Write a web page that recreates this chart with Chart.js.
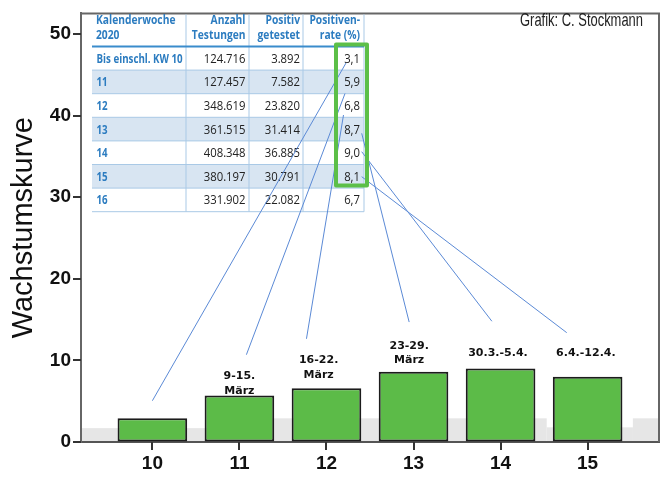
<!DOCTYPE html>
<html>
<head>
<meta charset="utf-8">
<script src="https://cdn.jsdelivr.net/npm/chart.js@4.4.1/dist/chart.umd.min.js"></script>
<style>
  html, body { margin: 0; padding: 0; background: #fff; }
  #wrap { width: 662px; height: 478px; }
</style>
</head>
<body>
<div id="wrap"><canvas id="chart" width="662" height="478"></canvas></div>
<script>
// bar data (calendar week -> positive rate in %)
const weeks = [10, 11, 12, 13, 14, 15];
const rates = [2.9, 5.7, 6.6, 8.6, 9.0, 8.0];
const yTicks = [0, 10, 20, 30, 40, 50];
const periods = [[], ['9-15.', 'März'], ['16-22.', 'März'], ['23-29.', 'März'], ['30.3.-5.4.'], ['6.4.-12.4.']];

// table pasted into the chart
const tableHead = [['Kalenderwoche', '2020'], ['Anzahl', 'Testungen'], ['Positiv', 'getestet'], ['Positiven-', 'rate (%)']];
const tableWeeks = ['Bis einschl. KW 10', '11', '12', '13', '14', '15', '16'];
const tableTests = ['124.716', '127.457', '348.619', '361.515', '408.348', '380.197', '331.902'];
const tablePositive = ['3.892', '7.582', '23.820', '31.414', '36.885', '30.791', '22.082'];
const tableRates = ['3,1', '5,9', '6,8', '8,7', '9,0', '8,1', '6,7'];

// where the hand drawn connector lines end (in chart units)
const linkEndX = [10.0, 11.08, 11.77, 12.95, 13.9, 14.76];
const linkEndY = [5.06, 10.7, 12.65, 14.7, 14.8, 13.4];
// where the date labels sit (x, baseline of last line, chart units)
const labelX = [10, 11.0, 11.91, 12.95, 13.97, 14.98];
const labelY = [0, 5.94, 7.87, 9.64, 10.48, 10.48];

const BLUE = '#2c7cc0';
const LINE_BLUE = '#a9c9e6';

function squeezed(ctx, s, x, y, align, sx) {
  ctx.save();
  ctx.translate(x, y);
  ctx.scale(sx, 1);
  ctx.textAlign = align;
  ctx.fillText(s, 0, 0);
  ctx.restore();
}

const backdrop = {
  id: 'backdrop',
  beforeDraw(chart) {
    const { ctx, scales: { x, y } } = chart;
    ctx.save();
    ctx.fillStyle = '#fff';
    ctx.fillRect(0, 0, chart.width, chart.height);
    // grey floor behind the bars (scan artefact in the original)
    ctx.fillStyle = '#e6e6e6';
    [[9.18, 11, 1.7], [11, 14.53, 2.9], [14.53, 15.52, 1.8], [15.52, 15.82, 2.9]].forEach(([a, b, h]) => {
      ctx.fillRect(x.getPixelForValue(a), y.getPixelForValue(h), x.getPixelForValue(b) - x.getPixelForValue(a), y.getPixelForValue(0) - y.getPixelForValue(h));
    });
    ctx.restore();
  },
  afterDraw(chart) {
    const { ctx, chartArea: a, scales: { x, y } } = chart;
    ctx.save();
    // frame top + right
    ctx.strokeStyle = '#666';
    ctx.lineWidth = 2;
    ctx.beginPath();
    ctx.moveTo(a.left, a.top);
    ctx.lineTo(a.right, a.top);
    ctx.lineTo(a.right, a.bottom);
    ctx.stroke();

    // tick marks
    ctx.fillStyle = '#333';
    weeks.forEach(w => {
      const px = Math.round(x.getPixelForValue(w));
      ctx.fillRect(px - 1, a.bottom, 2, 8);
    });
    yTicks.forEach(v => {
      const py = Math.round(y.getPixelForValue(v));
      ctx.fillRect(a.left - 8, py - 1, 8, 2);
    });

    // ---- table ----
    const L = 92, R = 364, headBottom = 46.5, rowH = 23.6;
    const cols = [186, 249, 303];
    const rightAt = [0, 245.5, 300, 360];
    for (let i = 0; i < tableWeeks.length; i++) {
      if (i % 2 === 1) {
        ctx.fillStyle = '#d8e5f2';
        ctx.fillRect(L, headBottom + i * rowH, R - L, rowH);
      }
    }
    ctx.strokeStyle = LINE_BLUE;
    ctx.lineWidth = 1;
    for (let i = 1; i <= tableWeeks.length; i++) {
      ctx.beginPath();
      ctx.moveTo(L, headBottom + i * rowH);
      ctx.lineTo(R, headBottom + i * rowH);
      ctx.stroke();
    }
    [...cols, R].forEach(cx => {
      ctx.beginPath();
      ctx.moveTo(cx, a.top + 1);
      ctx.lineTo(cx, headBottom + tableWeeks.length * rowH);
      ctx.stroke();
    });
    ctx.strokeStyle = '#3a8ccc';
    ctx.lineWidth = 2;
    ctx.beginPath();
    ctx.moveTo(L, headBottom);
    ctx.lineTo(R, headBottom);
    ctx.stroke();

    ctx.textBaseline = 'alphabetic';
    ctx.fillStyle = BLUE;
    ctx.font = 'bold 13px "Open Sans"';
    tableHead.forEach((lines, c) => {
      lines.forEach((s, k) => {
        if (c === 0) squeezed(ctx, s, 96, 24 + k * 14.5, 'left', 0.79);
        else squeezed(ctx, s, rightAt[c], 24 + k * 14.5, 'right', 0.79);
      });
    });
    for (let i = 0; i < tableWeeks.length; i++) {
      const base = headBottom + (i + 0.5) * rowH + 4.5;
      ctx.fillStyle = BLUE;
      ctx.font = 'bold 13px "Open Sans"';
      squeezed(ctx, tableWeeks[i], 96.5, base, 'left', 0.75);
      ctx.fillStyle = '#222';
      ctx.font = '13px "Open Sans"';
      squeezed(ctx, tableTests[i], rightAt[1], base, 'right', 0.87);
      squeezed(ctx, tablePositive[i], rightAt[2], base, 'right', 0.87);
      squeezed(ctx, tableRates[i], rightAt[3], base, 'right', 0.87);
    }

    // connector lines from the rate cells to the bars
    const starts = [[346, 63], [345, 93.5], [343.5, 115], [361.7, 133.3], [361.7, 151.7], [361.7, 176.7]];
    ctx.strokeStyle = '#5b8ad6';
    ctx.lineWidth = 1;
    starts.forEach(([sx, sy], i) => {
      ctx.beginPath();
      ctx.moveTo(sx, sy);
      ctx.lineTo(x.getPixelForValue(linkEndX[i]), y.getPixelForValue(linkEndY[i]));
      ctx.stroke();
    });

    // green highlight box around the rate column
    ctx.strokeStyle = '#5cbf48';
    ctx.lineWidth = 4;
    ctx.lineJoin = 'round';
    ctx.strokeRect(336, 44.5, 31, 141);

    // date labels above the bars
    ctx.fillStyle = '#111';
    ctx.font = 'bold 11px "DejaVu Sans"';
    ctx.textAlign = 'center';
    periods.forEach((lines, i) => {
      const px = x.getPixelForValue(labelX[i]);
      const py = y.getPixelForValue(labelY[i]);
      lines.forEach((s, k) => {
        ctx.fillText(s, px, py - (lines.length - 1 - k) * 14.7);
      });
    });

    // credit
    ctx.fillStyle = '#222';
    ctx.font = '18px "Liberation Sans"';
    ctx.textAlign = 'right';
    ctx.fillText('Grafik: C. Stockmann', 643, 26, 123);
    ctx.restore();
  }
};

const ctx = document.getElementById('chart').getContext('2d');
new Chart(ctx, {
  type: 'bar',
  data: {
    datasets: [{
      data: weeks.map((w, i) => ({ x: w, y: rates[i] })),
      backgroundColor: '#5cbb48',
      borderColor: '#1c1c1c',
      borderWidth: 2,
      borderSkipped: false,
      barPercentage: 0.8,
      categoryPercentage: 1
    }]
  },
  options: {
    responsive: false,
    animation: false,
    devicePixelRatio: 1,
    layout: { padding: { top: 6, right: 3, left: 0, bottom: 0 } },
    plugins: {
      legend: { display: false },
      tooltip: { enabled: false }
    },
    scales: {
      x: {
        type: 'linear',
        min: 9.18,
        max: 15.82,
        offset: false,
        afterBuildTicks: s => { s.ticks = weeks.map(v => ({ value: v })); },
        afterFit: s => { s.height = 36; },
        grid: { offset: false, drawOnChartArea: false, drawTicks: true, tickLength: 6, color: 'rgba(0,0,0,0)' },
        border: { display: true, color: '#555', width: 2 },
        ticks: {
          color: '#111',
          padding: 4,
          maxRotation: 0,
          autoSkip: false,
          font: { family: 'Liberation Sans', size: 19, weight: 'bold' }
        }
      },
      y: {
        min: 0,
        max: 52.53,
        afterBuildTicks: s => { s.ticks = yTicks.map(v => ({ value: v })); },
        afterFit: s => { s.width = 81; },
        grid: { drawOnChartArea: false, drawTicks: true, tickLength: 8, color: 'rgba(0,0,0,0)' },
        border: { display: true, color: '#666', width: 2 },
        ticks: {
          color: '#111',
          padding: 2,
          font: { family: 'Liberation Sans', size: 19, weight: 'bold' }
        },
        title: {
          display: true,
          text: 'Wachstumskurve',
          color: '#111',
          padding: { top: 7, bottom: 0 },
          font: { family: 'Liberation Sans', size: 29, weight: 'normal' }
        }
      }
    }
  },
  plugins: [backdrop]
});
</script>
</body>
</html>
